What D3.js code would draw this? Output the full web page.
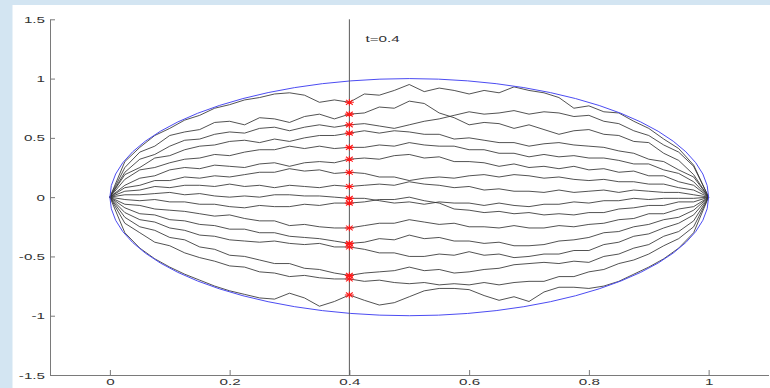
<!DOCTYPE html>
<html>
<head>
<meta charset="utf-8">
<script src="https://cdn.jsdelivr.net/npm/d3@7"></script>
<style>
  html, body { margin: 0; padding: 0; background: #fff; }
  svg { display: block; }
  .lbl { font-family: "Liberation Sans", Arial, Helvetica, sans-serif; font-size: 9.5px; fill: #333; }
</style>
</head>
<body>
<div id="chart"></div>
<script>
// sample times of the paths
const tValues = [0, 0.025, 0.05, 0.075, 0.1, 0.125, 0.15, 0.175, 0.2, 0.225, 0.25, 0.275, 0.3, 0.325, 0.35, 0.375, 0.4,
  0.425, 0.45, 0.475, 0.5, 0.525, 0.55, 0.575, 0.6, 0.625, 0.65, 0.675, 0.7, 0.725, 0.75, 0.775, 0.8, 0.825, 0.85,
  0.875, 0.9, 0.925, 0.95, 0.975, 1];

// paths, top to bottom (at t=0.4)
const path01 = [0,.30,.42,.52,.58,.65,.69,.75,.78,.82,.84,.87,.88,.86,.80,.82,.80,.87,.86,.90,.95,.89,.92,.90,.87,.90,.88,.93,.90,.88,.84,.75,.77,.72,.71,.64,.58,.49,.41,.27,0];
const path02 = [0,.25,.38,.43,.52,.55,.57,.63,.64,.61,.67,.66,.63,.68,.70,.66,.70,.71,.76,.75,.81,.79,.71,.67,.61,.63,.62,.58,.61,.57,.53,.56,.57,.53,.52,.47,.46,.37,.31,.19,0];
const path03 = [0,.21,.32,.36,.43,.48,.49,.53,.55,.54,.58,.59,.56,.59,.61,.59,.61,.62,.60,.58,.61,.64,.66,.69,.72,.70,.71,.73,.70,.72,.71,.68,.69,.64,.62,.56,.52,.44,.38,.26,0];
const path04 = [0,.19,.25,.33,.35,.40,.43,.44,.47,.48,.46,.49,.47,.50,.52,.52,.54,.56,.54,.56,.55,.53,.53,.49,.50,.48,.46,.46,.43,.45,.46,.44,.43,.42,.39,.37,.32,.30,.23,.17,0];
const path05 = [0,.15,.23,.25,.29,.32,.33,.36,.35,.38,.40,.40,.43,.41,.43,.41,.42,.42,.44,.43,.46,.44,.43,.43,.40,.40,.37,.37,.34,.36,.34,.35,.33,.33,.31,.28,.28,.23,.20,.13,0];
const path06 = [0,.10,.16,.18,.23,.25,.24,.27,.26,.25,.28,.29,.26,.29,.30,.29,.32,.33,.32,.35,.36,.33,.34,.30,.30,.29,.26,.28,.25,.26,.24,.26,.23,.24,.21,.22,.18,.18,.13,.10,0];
const path07 = [0,.08,.10,.14,.14,.17,.16,.18,.17,.19,.21,.21,.24,.22,.23,.20,.21,.20,.17,.17,.14,.16,.17,.16,.18,.19,.17,.19,.18,.16,.17,.15,.14,.15,.13,.13,.11,.11,.08,.06,0];
const path08 = [0,.05,.06,.09,.08,.10,.10,.09,.11,.09,.10,.08,.10,.09,.08,.10,.09,.10,.11,.10,.13,.11,.10,.08,.09,.06,.07,.05,.05,.04,.06,.04,.05,.06,.04,.06,.05,.04,.04,.02,0];
const path09 = [0,.02,.02,.03,.04,.02,.03,.01,.00,.01,.00,.02,.02,.01,.01,.00,-.01,-.01,-.03,-.05,-.04,-.06,-.04,-.05,-.05,-.07,-.05,-.07,-.08,-.06,-.06,-.04,-.05,-.03,-.03,-.01,-.02,-.01,-.01,-.01,0];
const path10 = [0,-.02,-.03,-.02,-.04,-.04,-.06,-.06,-.08,-.09,-.07,-.08,-.08,-.06,-.07,-.05,-.05,-.04,-.02,-.02,.00,-.03,-.05,-.10,-.11,-.13,-.12,-.14,-.13,-.15,-.14,-.15,-.13,-.13,-.10,-.09,-.07,-.07,-.04,-.04,0];
const path11 = [0,-.06,-.07,-.10,-.11,-.12,-.14,-.16,-.15,-.18,-.20,-.20,-.24,-.23,-.25,-.26,-.26,-.24,-.22,-.22,-.19,-.21,-.23,-.22,-.25,-.25,-.26,-.24,-.26,-.26,-.24,-.25,-.23,-.22,-.19,-.18,-.14,-.14,-.10,-.08,0];
const path12 = [0,-.09,-.14,-.15,-.19,-.20,-.23,-.24,-.27,-.27,-.30,-.30,-.33,-.34,-.35,-.37,-.39,-.38,-.35,-.36,-.32,-.35,-.34,-.37,-.37,-.39,-.38,-.41,-.41,-.40,-.37,-.36,-.34,-.30,-.29,-.25,-.23,-.19,-.17,-.11,0];
const path13 = [0,-.13,-.19,-.21,-.26,-.28,-.32,-.33,-.36,-.37,-.38,-.37,-.39,-.40,-.39,-.42,-.42,-.44,-.47,-.47,-.50,-.50,-.48,-.49,-.46,-.49,-.48,-.51,-.50,-.48,-.48,-.45,-.45,-.40,-.38,-.33,-.31,-.26,-.22,-.15,0];
const path14 = [0,-.17,-.25,-.28,-.34,-.36,-.42,-.44,-.49,-.50,-.53,-.56,-.56,-.60,-.61,-.64,-.66,-.64,-.63,-.62,-.59,-.62,-.61,-.64,-.63,-.61,-.60,-.57,-.56,-.55,-.56,-.54,-.55,-.50,-.48,-.43,-.40,-.33,-.29,-.20,0];
const path15 = [0,-.22,-.30,-.38,-.41,-.47,-.51,-.54,-.58,-.59,-.63,-.64,-.67,-.66,-.68,-.69,-.69,-.71,-.70,-.72,-.73,-.72,-.74,-.73,-.74,-.72,-.74,-.72,-.71,-.71,-.67,-.67,-.63,-.61,-.56,-.53,-.48,-.41,-.35,-.25,0];
const path16 = [0,-.30,-.43,-.52,-.59,-.65,-.70,-.75,-.79,-.82,-.85,-.86,-.81,-.85,-.92,-.88,-.825,-.87,-.91,-.89,-.84,-.79,-.77,-.77,-.78,-.83,-.87,-.84,-.88,-.80,-.76,-.76,-.77,-.75,-.71,-.65,-.59,-.52,-.43,-.30,0];

const paths = [path01, path02, path03, path04, path05, path06, path07, path08,
  path09, path10, path11, path12, path13, path14, path15, path16];

const xTicks = [0, 0.2, 0.4, 0.6, 0.8, 1];
const yTicks = [1.5, 1, 0.5, 0, -0.5, -1, -1.5];
const markerT = 0.4;
const markerLabel = 't=0.4';
const ellipseCenter = [0.5, 0];
const ellipseRadii = [0.5, 1];

const width = 770, height = 388;
const stretch = 1.6; // the picture is squashed wide, so is its text

const svg = d3.select('#chart').append('svg')
  .attr('width', width)
  .attr('height', height);

// light blue frame round the figure
svg.append('rect').attr('x', 0).attr('y', 0).attr('width', width).attr('height', 5).attr('fill', '#d3e5f2');
svg.append('rect').attr('x', 0).attr('y', 0).attr('width', 12.5).attr('height', height).attr('fill', '#d3e5f2');

const x = d3.scaleLinear().domain([-0.1, 1.1]).range([50, 768.5]);
const y = d3.scaleLinear().domain([-1.5, 1.5]).range([375, 19.3]);

// Y axis
const yAxis = svg.append('g')
  .attr('transform', 'translate(' + x(-0.1) + ',0)')
  .call(d3.axisLeft(y).tickValues(yTicks).tickSizeInner(-5).tickSizeOuter(0).tickPadding(5).tickFormat(d => String(d)));

yAxis.selectAll('text')
  .attr('class', 'lbl')
  .attr('x', 0)
  .attr('transform', 'translate(-5,0) scale(' + stretch + ',1)');

// X axis
const xAxis = svg.append('g')
  .attr('transform', 'translate(0,' + y(-1.5) + ')')
  .call(d3.axisBottom(x).tickValues(xTicks).tickSizeInner(-5).tickSizeOuter(0).tickPadding(3).tickFormat(d => String(d)));

xAxis.selectAll('text')
  .attr('class', 'lbl')
  .attr('y', 0)
  .attr('transform', 'translate(0,3) scale(' + stretch + ',1)');

svg.selectAll('.domain, .tick line').attr('stroke', '#7a7a7a');
svg.selectAll('.tick text').attr('font-family', null).attr('font-size', null);

// the paths
const line = d3.line()
  .x((d, i) => x(tValues[i]))
  .y(d => y(d));

svg.append('g').selectAll('path').data(paths)
  .enter().append('path')
  .attr('d', line)
  .attr('fill', 'none')
  .attr('stroke', '#333')
  .attr('stroke-width', 0.85)
  .attr('stroke-linejoin', 'round');

// envelope
svg.append('ellipse')
  .attr('cx', x(ellipseCenter[0]))
  .attr('cy', y(ellipseCenter[1]))
  .attr('rx', x(ellipseCenter[0] + ellipseRadii[0]) - x(ellipseCenter[0]))
  .attr('ry', y(ellipseCenter[1]) - y(ellipseCenter[1] + ellipseRadii[1]))
  .attr('fill', 'none')
  .attr('stroke', '#4c4cf2')
  .attr('stroke-width', 1);

// vertical line at t
svg.append('line')
  .attr('x1', x(markerT)).attr('x2', x(markerT))
  .attr('y1', y(1.5)).attr('y2', y(-1.5))
  .attr('stroke', '#5a5a5a')
  .attr('stroke-width', 1);

// red stars where the paths cross t
const mi = tValues.indexOf(markerT);
svg.append('g').selectAll('path').data(paths)
  .enter().append('path')
  .attr('transform', d => 'translate(' + x(markerT) + ',' + y(d[mi]) + ')')
  .attr('d', 'M-4.5,0H4.5M0,-3.2V3.2M-3.4,-2.4L3.4,2.4M-3.4,2.4L3.4,-2.4')
  .attr('stroke', '#ff1a1a')
  .attr('stroke-width', 1.1)
  .attr('fill', 'none');

svg.append('text')
  .attr('class', 'lbl')
  .attr('font-size', '10px')
  .attr('transform', 'translate(' + x(0.427) + ',' + y(1.31) + ') scale(' + stretch + ',1)')
  .text(markerLabel);
</script>
</body>
</html>
